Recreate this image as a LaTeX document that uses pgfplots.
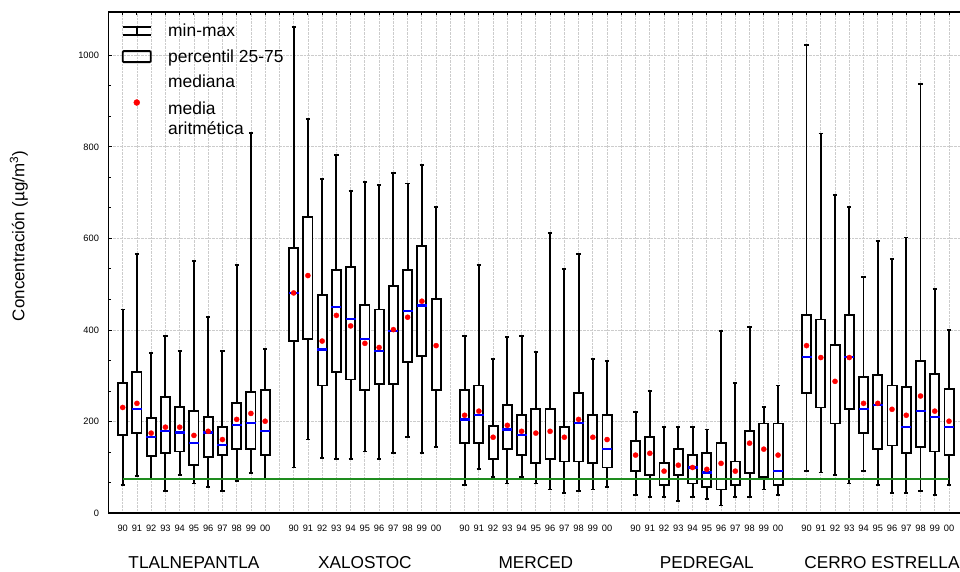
\documentclass[border=0pt]{standalone}
\usepackage{pgfplots}
\pgfplotsset{compat=1.18}
\usepgfplotslibrary{statistics}
\usepackage{fontspec}
\setmainfont{Liberation Sans}
\definecolor{limgreen}{RGB}{30,140,30}
\pgfplotsset{
  bxs/.style={forget plot, black, fill=white, solid, line width=1.9bp,
    boxplot/draw direction=y,
    boxplot/box extend=0.64, boxplot/whisker extend=0.3,
    boxplot/draw/median/.code={}},
}
\newcommand{\bx}[5]{\addplot[bxs, boxplot prepared={draw position=#1, lower whisker=#2, lower quartile=#3, median=#3, upper quartile=#4, upper whisker=#5}] coordinates {};}
\begin{document}
\begin{tikzpicture}
\begin{axis}[
  at={(108.45bp,58.7bp)}, anchor=south west,
  scale only axis, width=854.8bp, height=501.6bp,
  xmin=0, xmax=60, ymin=0, ymax=1095,
  clip=false,
  axis y line*=left,
  axis line style={line width=1.8bp},
  tick align=inside,
  major tick length=3.5bp, minor tick length=3bp,
  tick style={black, line width=1bp},
  xtick pos=right, xticklabel pos=left,
  ytick pos=left,
  xtick={1,...,59},
  xticklabels={90,91,92,93,94,95,96,97,98,99,00,{},90,91,92,93,94,95,96,97,98,99,00,{},90,91,92,93,94,95,96,97,98,99,00,{},90,91,92,93,94,95,96,97,98,99,00,{},90,91,92,93,94,95,96,97,98,99,00},
  ytick={0,200,400,600,800,1000},
  minor y tick num=2,
  xmajorgrids, ymajorgrids,
  grid style={densely dotted, gray!40, line width=0.8bp},
  /pgf/number format/assume math mode=true,
  /pgf/number format/1000 sep={},
  tick label style={font=\fontsize{9.3}{10}\selectfont},
  xticklabel style={yshift=-8bp},
  yticklabel style={xshift=-6bp},
  ylabel={Concentración (µg/m\textsuperscript{3})},
  every axis y label/.style={at={(axis description cs:-0.1047,0.553)}, rotate=90, anchor=center, font=\fontsize{17}{20}\selectfont},
  legend cell align=left,
  legend style={draw=none, fill=none, at={(axis description cs:0.012,0.985)}, anchor=north west,
    font=\fontsize{17.5}{20}\selectfont, row sep=6.5bp, column sep=14bp, nodes={inner sep=2.5bp}},
]
\addlegendimage{legend image code/.code={\draw[line width=1.8bp] (0bp,4bp)--(28bp,4bp) (14bp,4bp)--(14bp,-4bp) (0bp,-4bp)--(28bp,-4bp);}}
\addlegendentry{min-max}
\addlegendimage{legend image code/.code={\draw[line width=1.8bp, rounded corners=1bp] (0bp,-5.5bp) rectangle (28bp,5.5bp);}}
\addlegendentry{percentil 25-75}
\addlegendimage{empty legend}
\addlegendentry{mediana}
\addlegendimage{legend image code/.code={\fill[red] (14bp,6bp) circle (3bp);}}
\addlegendentry{\begin{tabular}[t]{@{}l@{}}media\\aritmética\end{tabular}}
% pos, min, q1, q3, max
% TLALNEPANTLA
\bx{1}{61}{170}{284}{445}
\bx{2}{82}{175}{309}{567}
\bx{3}{74}{126}{209}{349}
\bx{4}{48}{131}{254}{388}
\bx{5}{83}{135}{232}{355}
\bx{6}{65}{105}{223}{550}
\bx{7}{57}{122}{210}{428}
\bx{8}{48}{127}{188}{355}
\bx{9}{70}{140}{240}{542}
\bx{10}{88}{140}{265}{830}
\bx{11}{74}{127}{270}{358}
% XALOSTOC
\bx{13}{100}{376}{580}{1061}
\bx{14}{161}{380}{646}{860}
\bx{15}{121}{279}{476}{729}
\bx{16}{118}{309}{532}{782}
\bx{17}{118}{292}{537}{703}
\bx{18}{135}{270}{454}{724}
\bx{19}{118}{283}{445}{716}
\bx{20}{131}{283}{497}{742}
\bx{21}{166}{331}{532}{720}
\bx{22}{131}{344}{584}{760}
\bx{23}{144}{270}{467}{668}
% MERCED
\bx{25}{61}{153}{270}{388}
\bx{26}{96}{153}{279}{542}
\bx{27}{79}{118}{191}{336}
\bx{28}{65}{140}{236}{384}
\bx{29}{79}{127}{214}{388}
\bx{30}{65}{109}{227}{353}
\bx{31}{52}{118}{227}{611}
\bx{32}{44}{113}{188}{533}
\bx{33}{48}{113}{262}{567}
\bx{34}{52}{109}{214}{336}
\bx{35}{57}{100}{214}{332}
% PEDREGAL
\bx{37}{39}{92}{157}{222}
\bx{38}{35}{83}{166}{266}
\bx{39}{35}{61}{109}{188}
\bx{40}{26}{83}{140}{188}
\bx{41}{35}{65}{127}{188}
\bx{42}{31}{57}{131}{183}
\bx{43}{17}{52}{153}{397}
\bx{44}{35}{61}{113}{284}
\bx{45}{35}{87}{179}{406}
\bx{46}{52}{79}{196}{232}
\bx{47}{39}{61}{196}{279}
% CERRO ESTRELLA
\bx{49}{92}{262}{432}{1022}
\bx{50}{89}{231}{423}{829}
\bx{51}{83}{196}{367}{694}
\bx{52}{65}{227}{432}{668}
\bx{53}{92}{175}{297}{516}
\bx{54}{61}{140}{301}{595}
\bx{55}{44}{148}{279}{556}
\bx{56}{44}{131}{275}{602}
\bx{57}{48}{144}{332}{938}
\bx{58}{39}{135}{305}{489}
\bx{59}{61}{127}{271}{401}
% limit line
\addplot[forget plot, limgreen, line width=1.4bp] coordinates {(1,75) (59,75)};
% medians
\addplot[forget plot, only marks, mark=-, mark size=5bp, mark options={blue, solid, line width=2.4bp}] coordinates {
(2,228) (3,167) (4,180) (5,176) (6,153) (7,176) (8,149) (9,193) (10,197) (11,180)
(13,481) (15,358) (16,450) (17,424) (18,380) (19,354) (20,398) (21,441) (22,454)
(25,205) (26,214) (28,183) (29,171) (33,197) (35,140)
(41,100) (42,89) (47,92)
(49,341) (52,341) (53,228) (54,236) (56,188) (57,223) (58,210) (59,188)
};
% means
\addplot[forget plot, only marks, mark=*, mark size=2.6bp, mark options={red, fill=red, solid, line width=0.3bp}] coordinates {
(1,231) (2,240) (3,175) (4,188) (5,188) (6,170) (7,179) (8,161) (9,205) (10,218) (11,201)
(13,481) (14,519) (15,376) (16,432) (17,409) (18,371) (19,362) (20,401) (21,428) (22,463) (23,366)
(25,214) (26,223) (27,166) (28,192) (29,179) (30,175) (31,179) (32,166) (33,205) (34,166) (35,161)
(37,127) (38,131) (39,92) (40,105) (41,100) (42,96) (43,109) (44,92) (45,153) (46,140) (47,127)
(49,366) (50,340) (51,288) (52,340) (53,240) (54,240) (55,227) (56,214) (57,256) (58,223) (59,201)
};
\node[font=\fontsize{17.3}{20}\selectfont] at (axis cs:6,-108) {TLALNEPANTLA};
\node[font=\fontsize{17.3}{20}\selectfont] at (axis cs:18,-108) {XALOSTOC};
\node[font=\fontsize{17.3}{20}\selectfont] at (axis cs:30,-108) {MERCED};
\node[font=\fontsize{17.3}{20}\selectfont] at (axis cs:42,-108) {PEDREGAL};
\node[font=\fontsize{17.3}{20}\selectfont, anchor=west] at (axis cs:48.6,-108) {CERRO ESTRELLA};
\end{axis}
\pgfresetboundingbox
\useasboundingbox (0,0) rectangle (960bp,572bp);
\end{tikzpicture}
\end{document}
